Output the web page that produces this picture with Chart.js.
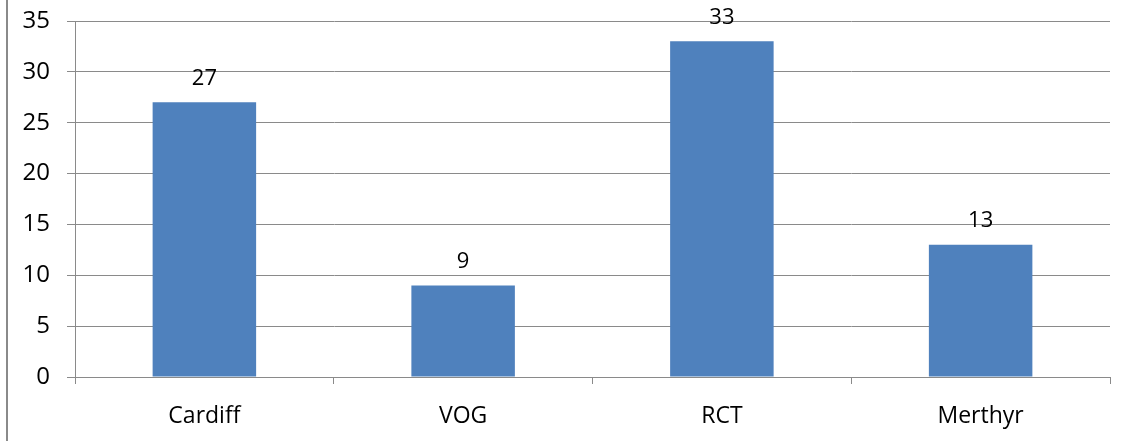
<!DOCTYPE html>
<html>
<head>
<meta charset="utf-8">
<script src="https://cdn.jsdelivr.net/npm/chart.js@4/dist/chart.umd.min.js"></script>
<style>
  html, body { margin: 0; padding: 0; background: #fff; }
  #wrap { width: 1130px; height: 441px; position: relative; }
</style>
</head>
<body>
<div id="wrap"><canvas id="myChart"></canvas></div>
<script>
  const categories = ['Cardiff', 'VOG', 'RCT', 'Merthyr'];
  const values = [27, 9, 33, 13];
  const yMax = 35;
  const yStep = 5;

  // etiquetas encima de cada barra
  const valueLabels = {
    id: 'valueLabels',
    afterDatasetsDraw(chart) {
      const ctx = chart.ctx;
      const meta = chart.getDatasetMeta(0);
      ctx.save();
      ctx.font = '22px "Open Sans", sans-serif';
      ctx.fillStyle = '#000';
      ctx.textAlign = 'center';
      ctx.textBaseline = 'middle';
      meta.data.forEach((bar, i) => {
        ctx.fillText(String(values[i]), bar.x, bar.y - 24);
      });
      ctx.restore();
    }
  };

  // línea del marco a la izquierda
  const frameLine = {
    id: 'frameLine',
    beforeDraw(chart) {
      const ctx = chart.ctx;
      ctx.save();
      ctx.strokeStyle = '#8a8a8a';
      ctx.lineWidth = 2;
      ctx.beginPath();
      ctx.moveTo(7, 0);
      ctx.lineTo(7, chart.height);
      ctx.stroke();
      ctx.restore();
    }
  };

  const ctx = document.getElementById('myChart').getContext('2d');
  new Chart(ctx, {
    type: 'bar',
    data: {
      labels: categories,
      datasets: [{
        data: values,
        backgroundColor: '#4F81BD',
        borderWidth: 0,
        barPercentage: 1,
        categoryPercentage: 0.4
      }]
    },
    options: {
      responsive: true,
      maintainAspectRatio: false,
      animation: false,
      layout: { padding: { top: 21, right: 20, left: 0, bottom: 0 } },
      plugins: { legend: { display: false }, tooltip: { enabled: false } },
      scales: {
        x: {
          grid: {
            offset: true,
            drawOnChartArea: false,
            drawTicks: true,
            tickLength: 7,
            color: '#8a8a8a'
          },
          border: { color: '#8a8a8a', width: 1 },
          ticks: {
            color: '#000',
            font: { family: 'Open Sans', size: 23 },
            padding: 19
          },
          afterFit(scale) { scale.height = 64; }
        },
        y: {
          min: 0,
          max: yMax,
          ticks: {
            stepSize: yStep,
            color: '#000',
            font: { family: 'Open Sans', size: 24 },
            padding: 17
          },
          grid: {
            color: '#8a8a8a',
            tickLength: 8,
            lineWidth: 1
          },
          border: { color: '#8a8a8a', width: 1 },
          afterFit(scale) {
            scale.width = 75;
            scale.paddingTop = 0;
            scale.paddingBottom = 0;
          }
        }
      }
    },
    plugins: [valueLabels, frameLine]
  });
</script>
</body>
</html>
